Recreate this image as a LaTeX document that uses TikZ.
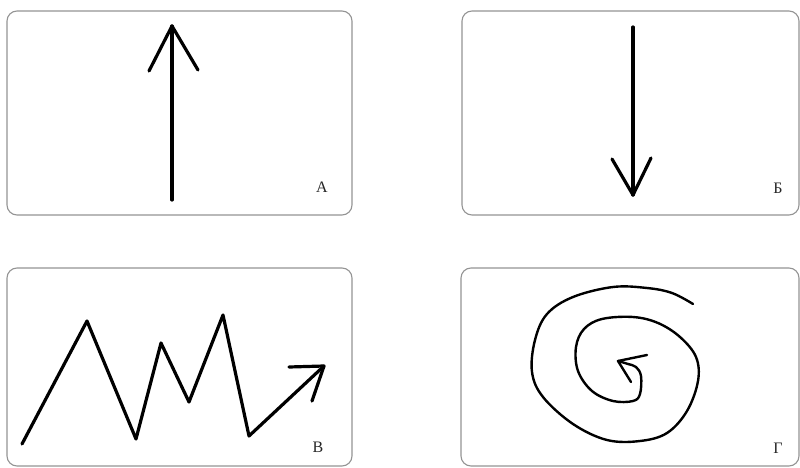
\documentclass[tikz,border=0pt]{standalone}
\usepackage{fontspec}
\setmainfont{Liberation Serif}
\begin{document}
\begin{tikzpicture}[x=1pt,y=-1pt,
  panel/.style={draw=black!42, line width=1.1pt, rounded corners=10pt},
  stroke/.style={line width=3.2pt, line cap=round, line join=round},
  thin stroke/.style={line width=2.4pt, line cap=round, line join=round},
  tag/.style={font=\fontsize{16}{18}\selectfont, text=black!85, inner sep=0pt}]
\useasboundingbox (0,0) rectangle (800,468);
% panels
\draw[panel] (7,11) rectangle (352,215);
\draw[panel] (462,11) rectangle (799,215);
\draw[panel] (7,268) rectangle (352,466);
\draw[panel] (461,268) rectangle (799,466);
% A: arrow up
\coordinate (a0) at (172,200);
\coordinate (a1) at (172,26);
\draw[stroke] (a0) -- (a1);
\draw[stroke] (149,71) -- (a1) -- (198,70);
\node[tag] (la) at (322,187) {А};
% B: arrow down
\coordinate (b0) at (633,27);
\coordinate (b1) at (633,195);
\draw[stroke] (b0) -- (b1);
\draw[stroke] (612,159) -- (b1) -- (651,158);
\node[tag] (lb) at (778,188) {Б};
% V: zigzag
\coordinate (v8) at (324,366);
\draw[stroke] (22,444) -- (87,321) -- (136,439) -- (161,343) -- (189,402)
  -- (223,315) -- (249,436) -- (v8);
\draw[stroke] (289,367) -- (v8) -- (312,401);
\node[tag] (lv) at (318,447) {В};
% G: spiral
\coordinate (g0) at (618,361);
\draw[thin stroke] plot[smooth, tension=0.6] coordinates {
  (693,304) (672,293) (647,288) (613,287) (573,297) (547,314) (535,340)
  (532,372) (543,397) (573,424) (607,440) (640,441) (667,433) (687,411)
  (698,381) (696,357) (680,337) (658,323) (633,317) (602,319) (584,329)
  (576,347) (578,371) (592,391) (613,401) (633,401) (640,394) (641,376)
  (636,367) (628,364) (g0)};
\draw[thin stroke] (647,355) -- (g0) -- (631,382);
\node[tag] (lg) at (778,448) {Г};
\end{tikzpicture}
\end{document}
